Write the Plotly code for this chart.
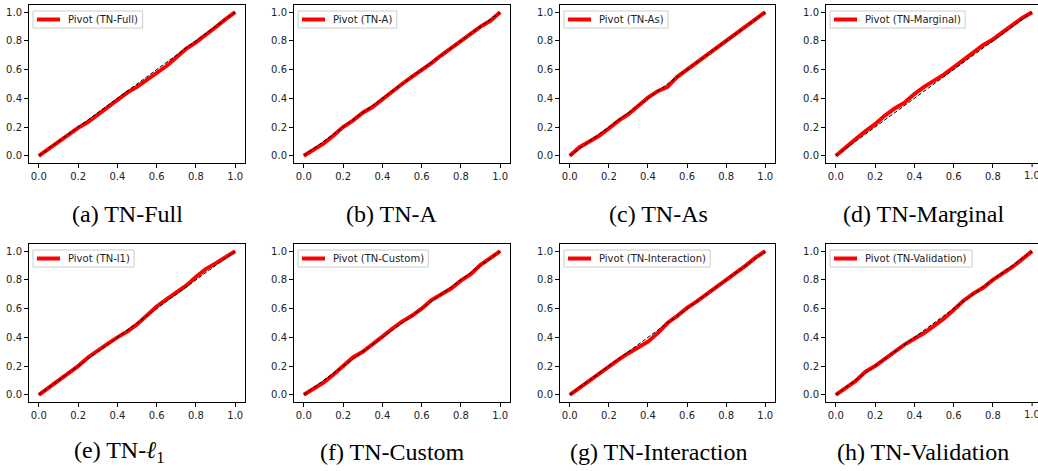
import plotly.graph_objects as go

# ---------------- data ----------------
x_grid = [0.0, 0.05, 0.10, 0.15, 0.20, 0.25, 0.30, 0.35, 0.40, 0.45, 0.50,
          0.55, 0.60, 0.65, 0.70, 0.75, 0.80, 0.85, 0.90, 0.95, 1.0]

y_full = [0, .05, .10, .145, .195, .235, .285, .34, .39, .44, .48,
          .53, .575, .625, .685, .745, .79, .84, .895, .95, 1.0]
y_a = [0, .045, .085, .14, .20, .245, .30, .34, .395, .45, .50,
       .55, .595, .645, .70, .75, .80, .85, .90, .94, 1.0]
y_as = [0, .06, .10, .14, .19, .245, .29, .35, .405, .45, .48,
        .55, .60, .645, .70, .745, .795, .85, .895, .95, 1.0]
y_marginal = [0, .06, .115, .17, .22, .28, .33, .37, .43, .48, .52,
              .565, .615, .665, .72, .77, .81, .86, .905, .96, 1.0]
y_l1 = [0, .05, .10, .15, .20, .26, .31, .355, .40, .44, .49,
        .55, .615, .665, .71, .76, .82, .875, .915, .955, 1.0]
y_custom = [0, .045, .085, .14, .20, .26, .30, .35, .405, .46, .51,
            .55, .60, .66, .70, .74, .795, .84, .905, .95, 1.0]
y_interaction = [0, .05, .10, .15, .20, .245, .29, .33, .37, .43, .50,
                 .55, .605, .65, .70, .745, .80, .85, .90, .955, 1.0]
y_validation = [0, .045, .095, .16, .20, .25, .30, .35, .39, .43, .48,
                .53, .59, .655, .705, .745, .80, .845, .89, .945, 1.0]

diag = [0.0, 1.0]

legend_names = ["Pivot (TN-Full)", "Pivot (TN-A)", "Pivot (TN-As)", "Pivot (TN-Marginal)",
                "Pivot (TN-l1)", "Pivot (TN-Custom)", "Pivot (TN-Interaction)", "Pivot (TN-Validation)"]
captions = ["(a) TN-Full", "(b) TN-A", "(c) TN-As", "(d) TN-Marginal",
            "(e) TN-<i>ℓ</i><sub>1</sub>", "(f) TN-Custom", "(g) TN-Interaction", "(h) TN-Validation"]
series = [y_full, y_a, y_as, y_marginal, y_l1, y_custom, y_interaction, y_validation]
tick_vals = [0.0, 0.2, 0.4, 0.6, 0.8, 1.0]
tick_text = ["0.0", "0.2", "0.4", "0.6", "0.8", "1.0"]

# ---------------- layout geometry (page pixels; body margin reset to 0) ----------------
W, H = 1038, 471
col_px = [(29, 245), (294, 510), (560, 775), (826, 1038)]
row_px = [(5, 163), (244, 402)]
caption_x = [[127, 392, 658, 923], [119, 392, 658, 923]]
caption_y = [214, 452]
LEG_FONT = 10
TICK_FONT = 10

# approximate DejaVu Sans advance widths (em) to size the legend boxes
_dv = {"P": .603, "i": .278, "v": .592, "o": .612, "t": .392, " ": .318, "(": .390,
       ")": .390, "T": .611, "N": .748, "-": .361, "F": .575, "u": .634, "l": .278,
       "A": .684, "s": .521, "M": .863, "a": .613, "r": .411, "g": .635, "n": .634,
       "1": .636, "C": .698, "m": .974, "I": .295, "e": .615, "c": .550, "V": .684,
       "d": .635}


def text_w(s, size):
    return sum(_dv.get(ch, .6) for ch in s) * size


def px(v):
    return min(max(v / W, 0.0), 1.0)


def py(v):
    return min(max(1 - v / H, 0.0), 1.0)


fig = go.Figure()

layout = dict(
    width=W, height=H,
    margin=dict(l=0, r=0, t=0, b=0),
    paper_bgcolor="white", plot_bgcolor="white",
    showlegend=False,
)

annotations = []
shapes = []
for i in range(8):
    r, c = divmod(i, 4)
    k = i + 1
    xa = "x" if k == 1 else f"x{k}"
    ya = "y" if k == 1 else f"y{k}"

    fig.add_trace(go.Scatter(
        x=x_grid, y=series[i], mode="lines",
        line=dict(color="#ff0000", width=4),
        name=legend_names[i], xaxis=xa, yaxis=ya,
    ))
    fig.add_trace(go.Scatter(
        x=diag, y=diag, mode="lines",
        line=dict(color="black", width=1, dash="4px,2px"),
        xaxis=xa, yaxis=ya, hoverinfo="skip",
    ))

    x0, x1 = col_px[c]
    y0, y1 = row_px[r]
    last_col = (c == 3)
    xrange = [-0.05, 1.05] if not last_col else [-0.05, 1.03]
    axis_common = dict(
        showline=True, linecolor="black", linewidth=1,
        ticks="outside", ticklen=4, tickcolor="black", tickwidth=1,
        tickfont=dict(family="DejaVu Sans", size=TICK_FONT, color="#222222"),
        showgrid=False, zeroline=False,
    )
    xtv = tick_vals if not last_col else tick_vals[:-1]
    xtt = tick_text if not last_col else tick_text[:-1]
    layout["xaxis" if k == 1 else f"xaxis{k}"] = dict(
        axis_common, domain=[px(x0), px(x1)], range=xrange,
        tickvals=xtv, ticktext=xtt, anchor=ya, mirror=True,
    )
    layout["yaxis" if k == 1 else f"yaxis{k}"] = dict(
        axis_common, domain=[py(y1), py(y0)], range=[-0.05, 1.05],
        tickvals=tick_vals, ticktext=tick_text, anchor=xa, mirror=not last_col,
    )
    if last_col:
        # the right-most "1.0" tick sits at the page edge and is partly cut off
        shapes.append(dict(
            type="line", xref=xa, yref="paper", x0=tick_vals[-1], x1=tick_vals[-1],
            y0=py(y1), y1=py(y1 + 4), line=dict(color="black", width=1),
        ))
        annotations.append(dict(
            text=tick_text[-1], xref=xa, yref="paper", x=tick_vals[-1], y=py(y1 + 5),
            xanchor="center", yanchor="top", showarrow=False,
            font=dict(family="DejaVu Sans", size=TICK_FONT, color="#222222"),
        ))

    # legend box (drawn by hand to match matplotlib's compact legend)
    bx0 = x0 + 4
    by0 = y0 + 6
    bw = 34 + text_w(legend_names[i], LEG_FONT) + 5
    bh = 17
    ymid = by0 + bh / 2
    shapes.append(dict(
        type="rect", xref="paper", yref="paper", layer="above",
        x0=px(bx0), x1=px(bx0 + bw), y0=py(by0 + bh), y1=py(by0),
        fillcolor="rgba(255,255,255,0.85)", line=dict(color="#cccccc", width=1),
    ))
    shapes.append(dict(
        type="line", xref="paper", yref="paper", layer="above",
        x0=px(bx0 + 4), x1=px(bx0 + 27), y0=py(ymid), y1=py(ymid),
        line=dict(color="#ff0000", width=4),
    ))
    annotations.append(dict(
        text=legend_names[i], xref="paper", yref="paper",
        x=px(bx0 + 33), y=py(ymid), xanchor="left", yanchor="middle",
        showarrow=False,
        font=dict(family="DejaVu Sans", size=LEG_FONT, color="#222222"),
    ))

    annotations.append(dict(
        text=captions[i], xref="paper", yref="paper",
        x=px(caption_x[r][c]), y=py(caption_y[r]),
        xanchor="center", yanchor="middle", showarrow=False,
        font=dict(family="Liberation Serif", size=24, color="black"),
    ))

layout["annotations"] = annotations
layout["shapes"] = shapes
fig.update_layout(**layout)

fig.write_html(
    "out.html",
    config={"displayModeBar": False},
    post_script="document.body.style.margin='0';document.body.style.padding='0';",
)
